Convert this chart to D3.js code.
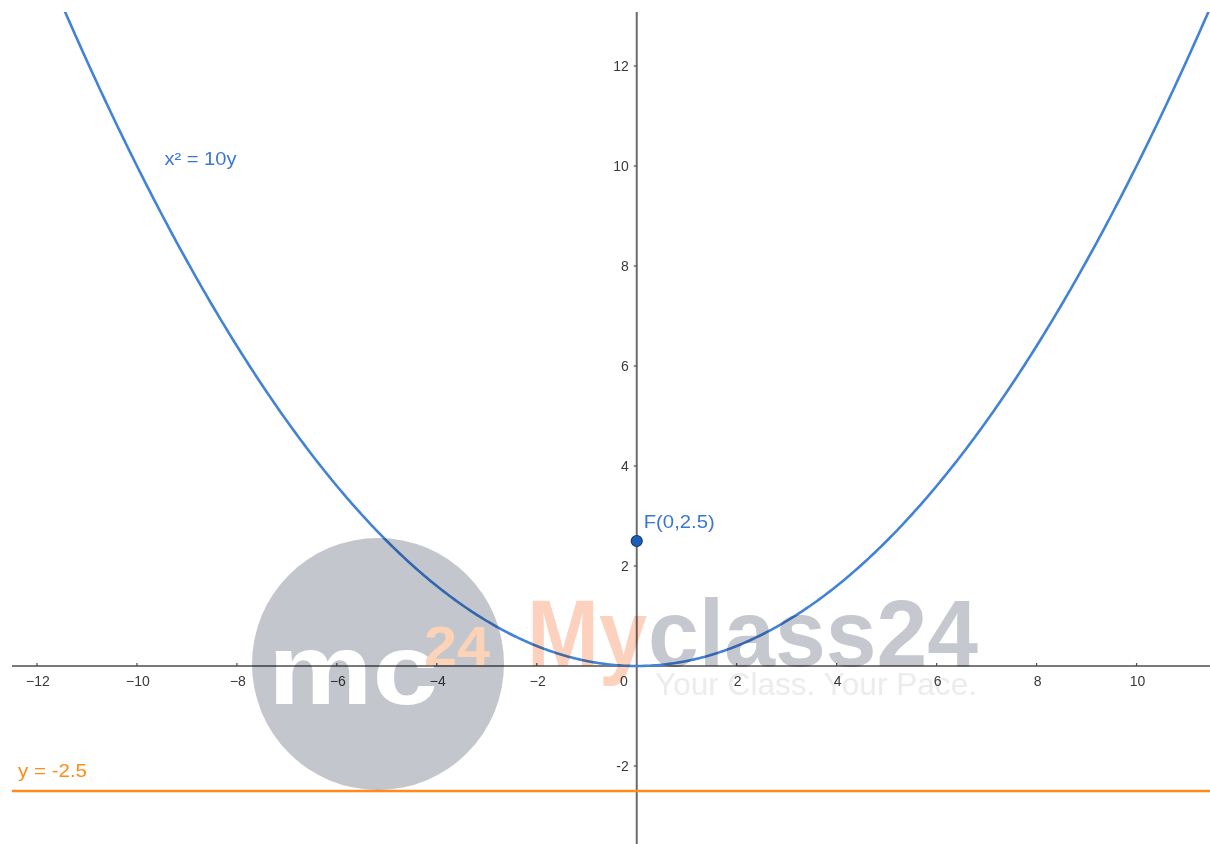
<!DOCTYPE html>
<meta charset="utf-8">
<style>
  body { margin: 0; background: #fff; }
  text { font-family: "Liberation Sans", Arial, sans-serif; }
</style>
<body>
<div id="chart"></div>
<script src="https://d3js.org/d3.v7.min.js"></script>
<script>

// ---- data ----
var xTicks = [-12, -10, -8, -6, -4, -2, 2, 4, 6, 8, 10]
var yTicks = [-2, 2, 4, 6, 8, 10, 12]
var xDomain = [-12.5, 11.47]
var yDomain = [-3.56, 13.08]
var parabolaA = 10          // x^2 = a*y
var focus = {x: 0, y: 2.5, label: "F(0,2.5)"}
var directrix = {y: -2.5, label: "y = -2.5"}
var curveLabel = {x: -9.45, y: 10.05, text: "x² = 10y"}

var width = 1210, height = 844
var padLeft = 12, padTop = 12

var x = d3.scaleLinear().domain(xDomain).range([padLeft, width])
var y = d3.scaleLinear().domain(yDomain).range([height, padTop])

var svg = d3.select("#chart").append("svg")
  .attr("width", width).attr("height", height)
  .style("isolation", "isolate")

svg.append("rect").attr("width", width).attr("height", height).attr("fill", "#fff")

svg.append("defs").append("clipPath").attr("id", "clip")
  .append("rect").attr("x", padLeft).attr("y", padTop)
  .attr("width", width - padLeft).attr("height", height - padTop)

var plot = svg.append("g").attr("clip-path", "url(#clip)")

// axes
var axisColor = "#4d4d4d"
plot.append("line")
  .attr("x1", x(xDomain[0])).attr("x2", x(xDomain[1]))
  .attr("y1", y(0)).attr("y2", y(0))
  .attr("stroke", axisColor).attr("stroke-width", 1.6)
plot.append("line")
  .attr("x1", x(0)).attr("x2", x(0))
  .attr("y1", y(yDomain[1])).attr("y2", y(yDomain[0]))
  .attr("stroke", "#6a6a6a").attr("stroke-width", 2)

plot.selectAll(".xt").data(xTicks).enter().append("line")
  .attr("x1", d => x(d)).attr("x2", d => x(d))
  .attr("y1", y(0) - 3).attr("y2", y(0))
  .attr("stroke", axisColor).attr("stroke-width", 1.2)
plot.selectAll(".xl").data(xTicks).enter().append("text")
  .attr("x", d => x(d) + 1).attr("y", y(0) + 20)
  .attr("text-anchor", "middle")
  .attr("font-size", 14).attr("fill", "#3a3a3a")
  .text(d => d < 0 ? "\u2212" + Math.abs(d) : d)
plot.append("text")
  .attr("x", x(0) - 9).attr("y", y(0) + 20)
  .attr("text-anchor", "end").attr("font-size", 14).attr("fill", "#3a3a3a")
  .text("0")

plot.selectAll(".yt").data(yTicks).enter().append("line")
  .attr("x1", x(0) - 3).attr("x2", x(0))
  .attr("y1", d => y(d)).attr("y2", d => y(d))
  .attr("stroke", axisColor).attr("stroke-width", 1.2)
plot.selectAll(".yl").data(yTicks).enter().append("text")
  .attr("x", x(0) - 8).attr("y", d => y(d) + 5)
  .attr("text-anchor", "end")
  .attr("font-size", 14).attr("fill", "#3a3a3a")
  .text(d => d < 0 ? "-" + Math.abs(d) : d)

// directrix
plot.append("line")
  .attr("x1", x(xDomain[0])).attr("x2", x(xDomain[1]))
  .attr("y1", y(directrix.y)).attr("y2", y(directrix.y))
  .attr("stroke", "#ff8c1a").attr("stroke-width", 2.5)
plot.append("text")
  .attr("x", 18).attr("y", y(directrix.y) - 14)
  .attr("font-size", 18).attr("fill", "#ff8c1a")
  .attr("textLength", 69).attr("lengthAdjust", "spacingAndGlyphs")
  .text(directrix.label)

// parabola x^2 = 10y
var pts = d3.range(xDomain[0], xDomain[1] + 0.05, 0.05).map(v => [v, v * v / parabolaA])
plot.append("path")
  .datum(pts)
  .attr("d", d3.line().x(d => x(d[0])).y(d => y(d[1])))
  .attr("fill", "none").attr("stroke", "#4283d6").attr("stroke-width", 2.6)
plot.append("text")
  .attr("x", x(curveLabel.x)).attr("y", y(curveLabel.y) + 1)
  .attr("font-size", 18).attr("fill", "#3a78d0")
  .attr("textLength", 72).attr("lengthAdjust", "spacingAndGlyphs")
  .text(curveLabel.text)

// focus
plot.append("circle")
  .attr("cx", x(focus.x)).attr("cy", y(focus.y)).attr("r", 5.5)
  .attr("fill", "#1d5fb8").attr("stroke", "#163a6e").attr("stroke-width", 1.2)
plot.append("text")
  .attr("x", x(focus.x) + 7).attr("y", y(focus.y) - 13)
  .attr("font-size", 18).attr("fill", "#3a78d0")
  .attr("textLength", 71).attr("lengthAdjust", "spacingAndGlyphs")
  .text(focus.label)

// watermark (multiplied over the chart)
var wm = svg.append("g").style("mix-blend-mode", "multiply")
wm.append("circle").attr("cx", 378).attr("cy", 664).attr("r", 126)
  .attr("fill", "#c3c6cd")
wm.append("text").attr("x", 268).attr("y", 704)
  .attr("font-size", 100).attr("font-weight", "bold").attr("fill", "#fff")
  .attr("textLength", 170).attr("lengthAdjust", "spacingAndGlyphs")
  .text("mc")
wm.append("text").attr("x", 424).attr("y", 665)
  .attr("font-size", 56).attr("font-weight", "bold").attr("fill", "#fdd3b8")
  .attr("textLength", 66).attr("lengthAdjust", "spacingAndGlyphs")
  .text("24")
wm.append("text").attr("x", 527).attr("y", 666)
  .attr("font-size", 94).attr("font-weight", "bold").attr("fill", "#fcd2bf")
  .attr("textLength", 120).attr("lengthAdjust", "spacingAndGlyphs")
  .text("My")
wm.append("text").attr("x", 648).attr("y", 666)
  .attr("font-size", 94).attr("font-weight", "bold").attr("fill", "#c6c8d0")
  .attr("textLength", 330).attr("lengthAdjust", "spacingAndGlyphs")
  .text("class24")
wm.append("text").attr("x", 655).attr("y", 695)
  .attr("font-size", 32).attr("fill", "#ececee")
  .attr("textLength", 322).attr("lengthAdjust", "spacingAndGlyphs")
  .text("Your Class. Your Pace.")

</script>
</body>
